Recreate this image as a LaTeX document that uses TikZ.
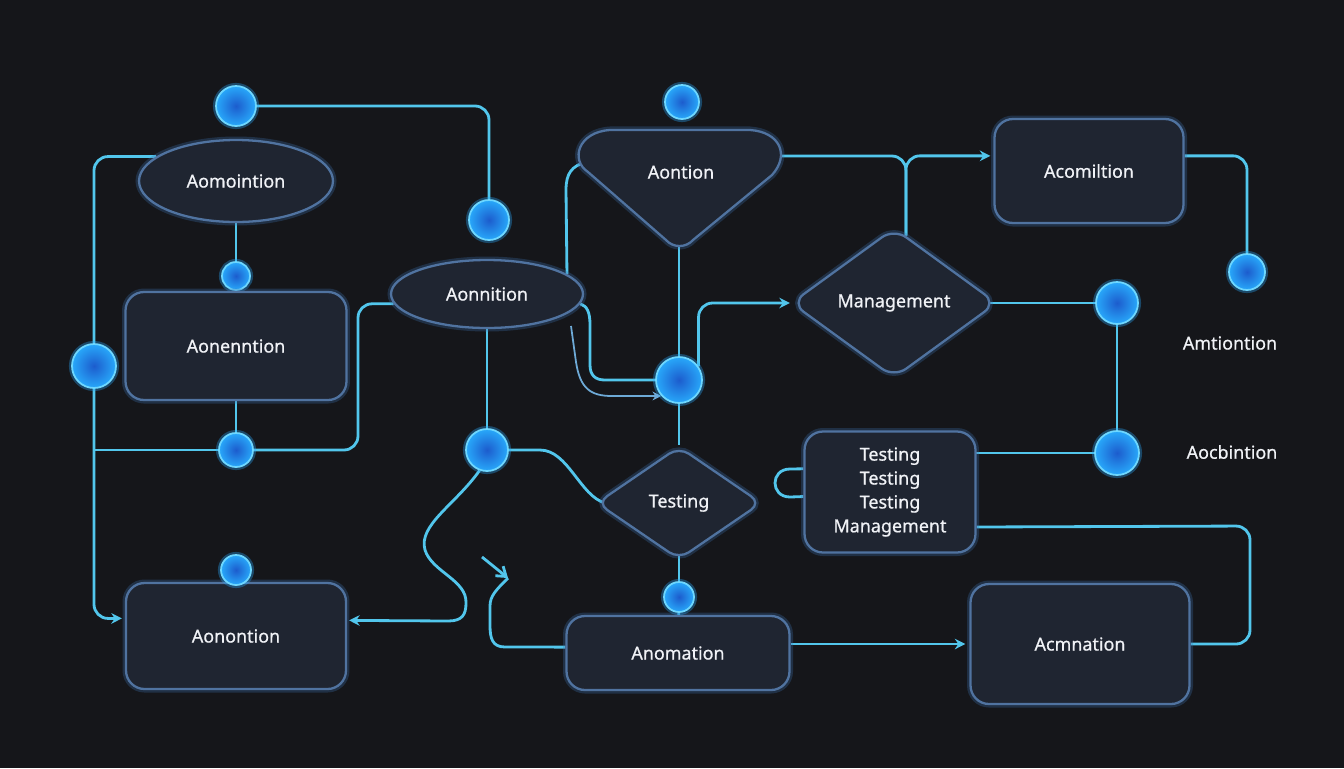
\documentclass[tikz,border=0pt]{standalone}
\usepackage{fontspec}
\setmainfont{Noto Sans}
\newfontfamily\lblfont{Noto Sans}[FakeBold=0.7]
\usetikzlibrary{shapes.geometric,arrows.meta,calc}
\definecolor{bgc}{RGB}{21,22,26}
\definecolor{boxfill}{RGB}{31,37,49}
\definecolor{boxedge}{RGB}{80,115,160}
\definecolor{boxglow}{RGB}{60,110,170}
\definecolor{wirec}{RGB}{82,198,236}
\definecolor{thinc}{RGB}{110,170,215}
\definecolor{dotin}{RGB}{28,92,205}
\definecolor{dotout}{RGB}{40,168,250}
\definecolor{dotrim}{RGB}{110,215,255}
\definecolor{txt}{RGB}{240,242,246}
\pgfdeclarelayer{bgfill}
\pgfdeclarelayer{wires}
\pgfsetlayers{bgfill,wires,main}
\begin{document}
\begin{tikzpicture}[x=0.02cm,y=-0.02cm,
  shapethree/.style={fill=boxfill, draw=boxedge, line width=1.3pt, text=txt,
    font=\lblfont\fontsize{10.2}{13.6}\selectfont,
    preaction={draw=boxglow, line width=4pt, draw opacity=0.3}},
  box/.style={shapethree, rectangle, rounded corners=0.37cm, inner sep=0pt, align=center},
  oval/.style={shapethree, ellipse, inner sep=0pt},
  dmd/.style={shapethree, diamond, inner sep=0pt},
  dot/.style={circle, inner sep=0pt, draw=dotrim, line width=1pt, inner color=dotin, outer color=dotout,
    preaction={draw=dotout, line width=3.5pt, draw opacity=0.35}},
  wire/.style={draw=wirec, line width=1.6pt, rounded corners=0.28cm},
  cwire/.style={draw=wirec, line width=1.6pt, sharp corners},
  thinwire/.style={draw=thinc, line width=1pt, sharp corners},
  tip/.style={-{Stealth[length=6pt,width=6pt]}},
  lbl/.style={text=txt, font=\lblfont\fontsize{10.2}{13.6}\selectfont}
]
\useasboundingbox (0,0) rectangle (1344,768);
\begin{pgfonlayer}{bgfill}
\fill[bgc] (0,0) rectangle (1344,768);
\end{pgfonlayer}

% ---- nodes ----
\node[dot, minimum size=0.8cm] (d1) at (236,106) {};
\node[oval, minimum width=3.88cm, minimum height=1.64cm] (e1) at (236,181) {Aomointion};
\node[dot, minimum size=0.8cm] (d2) at (489,220) {};
\node[dot, minimum size=0.56cm] (d3) at (236,276) {};
\node[box, minimum width=4.42cm, minimum height=2.16cm] (r1) at (236,346) {Aonenntion};
\node[dot, minimum size=0.88cm] (d4) at (94,366) {};
\node[dot, minimum size=0.68cm] (d5) at (236,450) {};
\node[oval, minimum width=3.84cm, minimum height=1.36cm] (e2) at (487,294) {Aonnition};
\node[dot, minimum size=0.84cm] (d6) at (487,450) {};
\node[dot, minimum size=0.68cm] (d7) at (682,102) {};
\path[shapethree] (610,130) -- (750,130) .. controls (780,132) and (790,155) .. (772,175)
  -- (693,240) .. controls (686,248) and (673,248) .. (666,240)
  -- (588,172) .. controls (570,160) and (578,132) .. (610,130) -- cycle;
\node[lbl] (tri) at (681,172) {Aontion};
\coordinate (triL) at (586,162);
\coordinate (triR) at (760,156);
\coordinate (triB) at (679,240);
\node[dot, minimum size=0.92cm] (d8) at (679,380) {};
\node[dmd, rounded corners=0.3cm, minimum width=4.12cm, minimum height=3.0cm] (mg) at (894,303) {Management};
\node[box, minimum width=3.78cm, minimum height=2.08cm] (r2) at (1089,171) {Acomiltion};
\node[dot, minimum size=0.72cm] (d9) at (1247,272) {};
\node[dot, minimum size=0.84cm] (d10) at (1117,303) {};
\node[lbl] (t1) at (1230,343) {Amtiontion};
\node[dot, minimum size=0.88cm] (d11) at (1117,453) {};
\node[lbl] (t2) at (1232,452) {Aocbintion};
\node[box, minimum width=3.42cm, minimum height=2.42cm] (r3) at (890,492) {Testing\\Testing\\Testing\\Management};
\node[dmd, rounded corners=0.24cm, minimum width=3.3cm, minimum height=2.26cm] (ts) at (679,503) {Testing};
\node[box, minimum width=4.46cm, minimum height=1.48cm] (r4) at (678,653) {Anomation};
\node[dot, minimum size=0.6cm] (d12) at (679,597) {};
\node[box, minimum width=4.38cm, minimum height=2.4cm] (r5) at (1080,644) {Acmnation};
\node[box, minimum width=4.4cm, minimum height=2.12cm] (r6) at (236,636) {Aonontion};
\node[dot, minimum size=0.6cm] (d13) at (236,570) {};
\coordinate (thA) at (571,326);
\coordinate (zzT) at (508,578);
\coordinate (zzA) at (482,557);

% ---- connectors ----
\begin{pgfonlayer}{wires}
\draw[wire] (d1) -| (d2);
\draw[wire] (e1.163) -| (d4);
\draw[wire, tip, shorten >=0.06cm] (d4) |- (r6.171);
\draw[wire] (d5) -- (d5 -| d4);
\draw[wire] (e1) -- (d3);
\draw[wire] (d3) -- (r1);
\draw[wire] (r1) -- (d5);
\draw[wire] (d5) -- (358,450) |- (e2.186);
\draw[cwire] (e2.14) -- (566,190) .. controls (566,173) and (572,166) .. (triL);
\draw[wire] (e2) -- (d6);
\draw[cwire] (d6) -- (540,450) .. controls (568,450) and (580,496) .. (605,503) -- (ts.center);
\draw[cwire, tip, shorten >=0.04cm] (d6.250) .. controls (455,505) and (418,525) .. (425,550)
  .. controls (432,572) and (467,580) .. (466,603) .. controls (466,615) and (462,621) .. (448,621) -- (r6.8);
\draw[wire] (triB) -- (d8);
\draw[wire] (d8) -- (ts);
\draw[cwire] (e2.354) .. controls (587,306) and (590,312) .. (590,325) -- (590,365)
  .. controls (590,375) and (595,380) .. (605,380) -- (d8.center);
\draw[thinwire, -{Stealth[length=5pt,width=5pt]}] (thA) -- (576,362) .. controls (580,388) and (590,396) .. (612,396) -- (d8.222);
\draw[wire, tip] (d8.35) |- (mg.west);
\draw[wire] (triR) -| (mg.80);
\draw[wire, tip, shorten >=0.06cm] (mg.80) |- (r2.171);
\draw[wire] (r2.9) -| (d9);
\draw[wire] (mg.center) -- (d10.center);
\draw[wire] (d10) -- (d11);
\draw[wire] (d11.center) -- (d11 -| r3);
\draw[cwire] (r3.165) -- (790,469) .. controls (770,469) and (770,497) .. (790,497) -- (r3.183);
\draw[wire] (r3.338) -- (1250,526) |- (r5);
\draw[wire] (ts.center) -- (d12.center);
\draw[wire] (d12) -- (r4);
\draw[wire, tip, shorten >=0.08cm] (r5.west -| r4.east) -- (r5.west);
\draw[cwire] (r4.177) -- (505,647) .. controls (492,647) and (490,638) .. (490,625) -- (490,606)
  .. controls (490,596) and (496,590) .. (zzT);
\draw[cwire, -{Straight Barb[length=5pt,width=7pt]}] (zzA) -- (zzT);
\end{pgfonlayer}
\end{tikzpicture}
\end{document}
